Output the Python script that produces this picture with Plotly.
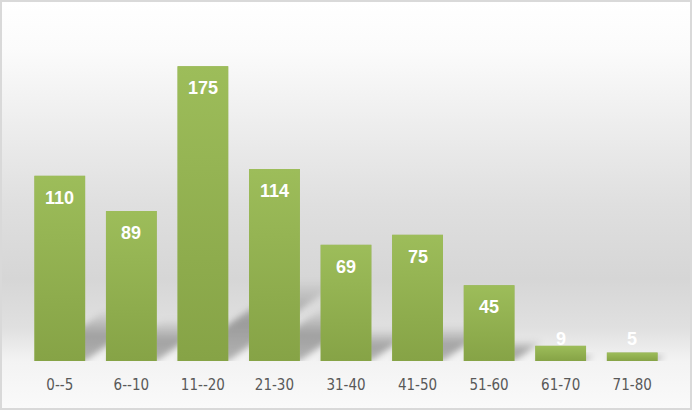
import plotly.graph_objects as go
import urllib.parse

categories = ["0--5", "6--10", "11--20", "21-30", "31-40", "41-50", "51-60", "61-70", "71-80"]
values = [110, 89, 175, 114, 69, 75, 45, 9, 5]

W, H = 692, 410
ML, MR, MT, MB = 24, 24, 24, 49
PW, PH = W - ML - MR, H - MT - MB
YMAX = 200
BARW = 0.71
idx = list(range(len(categories)))
px_y = PH / YMAX              # pixels per data unit (y)
px_x = PW / len(categories)   # pixels per category (x)


def svg_uri(svg):
    return "data:image/svg+xml;charset=utf-8," + urllib.parse.quote(svg)


bg_uri = svg_uri(
    "<svg xmlns='http://www.w3.org/2000/svg' width='692' height='410' preserveAspectRatio='none'>"
    "<defs><linearGradient id='g' x1='0' y1='0' x2='0' y2='1'>"
    "<stop offset='0' stop-color='#ffffff'/>"
    "<stop offset='0.12' stop-color='#fbfbfb'/>"
    "<stop offset='0.35' stop-color='#eaeaea'/>"
    "<stop offset='0.50' stop-color='#dfdfdf'/>"
    "<stop offset='0.68' stop-color='#d6d6d6'/>"
    "<stop offset='0.80' stop-color='#e0e0e0'/>"
    "<stop offset='0.88' stop-color='#f3f3f3'/>"
    "<stop offset='1' stop-color='#fafafa'/>"
    "</linearGradient></defs>"
    "<rect x='0' y='0' width='692' height='410' fill='url(#g)'/>"
    "</svg>"
)
bar_uri = svg_uri(
    "<svg xmlns='http://www.w3.org/2000/svg' width='10' height='100' preserveAspectRatio='none'>"
    "<defs><linearGradient id='b' x1='0' y1='0' x2='0' y2='1'>"
    "<stop offset='0' stop-color='#9dbd5a'/>"
    "<stop offset='1' stop-color='#86a346'/>"
    "</linearGradient></defs>"
    "<rect x='0' y='0' width='10' height='100' fill='url(#b)'/>"
    "</svg>"
)

fig = go.Figure()
fig.add_trace(go.Bar(
    x=idx, y=values, width=BARW,
    marker=dict(color="#92b050", line=dict(width=0)),
    customdata=categories, hovertemplate="%{customdata}: %{y}<extra></extra>",
))

images = [dict(
    source=bg_uri, xref="paper", yref="paper",
    x=-ML / PW, y=1 + MT / PH, sizex=W / PW, sizey=H / PH,
    xanchor="left", yanchor="top", sizing="stretch", layer="below",
)]

# soft perspective shadows cast up-right behind each bar (blurred svg images)
PAD = 10
bw_px = BARW * px_x
for i, v in zip(idx, values):
    s_px = max(0.27 * v * px_y, 6)
    d_px = 1.4 * s_px
    w_px = bw_px + d_px + 2 * PAD
    h_px = s_px + PAD
    x0 = PAD
    x1 = PAD + bw_px
    pts = f"{x0},{h_px} {x1},{h_px} {x1 + d_px},{h_px - s_px} {x0 + d_px},{h_px - s_px}"
    svg = (
        f"<svg xmlns='http://www.w3.org/2000/svg' width='{w_px:.1f}' height='{h_px:.1f}' "
        f"viewBox='0 0 {w_px:.1f} {h_px:.1f}' preserveAspectRatio='none'>"
        "<defs><filter id='f' x='-50%' y='-50%' width='200%' height='200%'>"
        "<feGaussianBlur stdDeviation='3'/></filter>"
        "<linearGradient id='s' x1='0' y1='1' x2='0' y2='0'>"
        "<stop offset='0' stop-color='#000' stop-opacity='0.26'/>"
        "<stop offset='0.5' stop-color='#000' stop-opacity='0.30'/>"
        "<stop offset='1' stop-color='#000' stop-opacity='0.02'/>"
        "</linearGradient></defs>"
        f"<polygon points='{pts}' fill='url(#s)' filter='url(#f)'/>"
        "</svg>"
    )
    images.append(dict(
        source=svg_uri(svg), xref="x", yref="y",
        x=i - BARW / 2 - PAD / px_x, y=h_px / px_y,
        sizex=w_px / px_x, sizey=h_px / px_y,
        xanchor="left", yanchor="top", sizing="stretch", layer="below",
    ))

# gradient overlay on each bar
for i, v in zip(idx, values):
    images.append(dict(
        source=bar_uri, xref="x", yref="y",
        x=i - BARW / 2, y=v, sizex=BARW, sizey=v,
        xanchor="left", yanchor="top", sizing="stretch", layer="above",
    ))

shapes = [dict(
    type="rect", xref="paper", yref="paper",
    x0=-(ML - 1) / PW, x1=1 + (MR - 1) / PW,
    y0=-(MB - 1) / PH, y1=1 + (MT - 1) / PH,
    line=dict(color="#d9d9d9", width=2), fillcolor="rgba(0,0,0,0)", layer="above",
)]

# data labels: centred ~22px below bar top, never lower than 22px above the baseline
off = 22 / px_y
for i, v in zip(idx, values):
    fig.add_annotation(
        x=i, y=max(v - off, off), text=f"<b>{v}</b>", showarrow=False,
        yanchor="middle", xanchor="center",
        font=dict(family="Liberation Sans, Arial, sans-serif", size=18, color="white"),
    )

fig.update_layout(
    width=W, height=H,
    margin=dict(l=ML, r=MR, t=MT, b=MB, pad=0),
    paper_bgcolor="white", plot_bgcolor="rgba(0,0,0,0)",
    showlegend=False, images=images, shapes=shapes,
    xaxis=dict(
        range=[-0.5, len(categories) - 0.5], tickmode="array",
        tickvals=idx, ticktext=categories,
        showgrid=False, zeroline=False, showline=False,
        ticks="outside", ticklen=10, tickcolor="rgba(0,0,0,0)",
        tickfont=dict(family="Liberation Sans Narrow, DejaVu Sans Condensed, Arial Narrow, sans-serif",
                      size=15, color="#595959"),
    ),
    yaxis=dict(range=[0, YMAX], visible=False, showgrid=False, zeroline=False),
)

fig.write_html("out.html", config={"displayModeBar": False},
               post_script="document.body.style.margin='0';document.body.style.overflow='hidden';")
